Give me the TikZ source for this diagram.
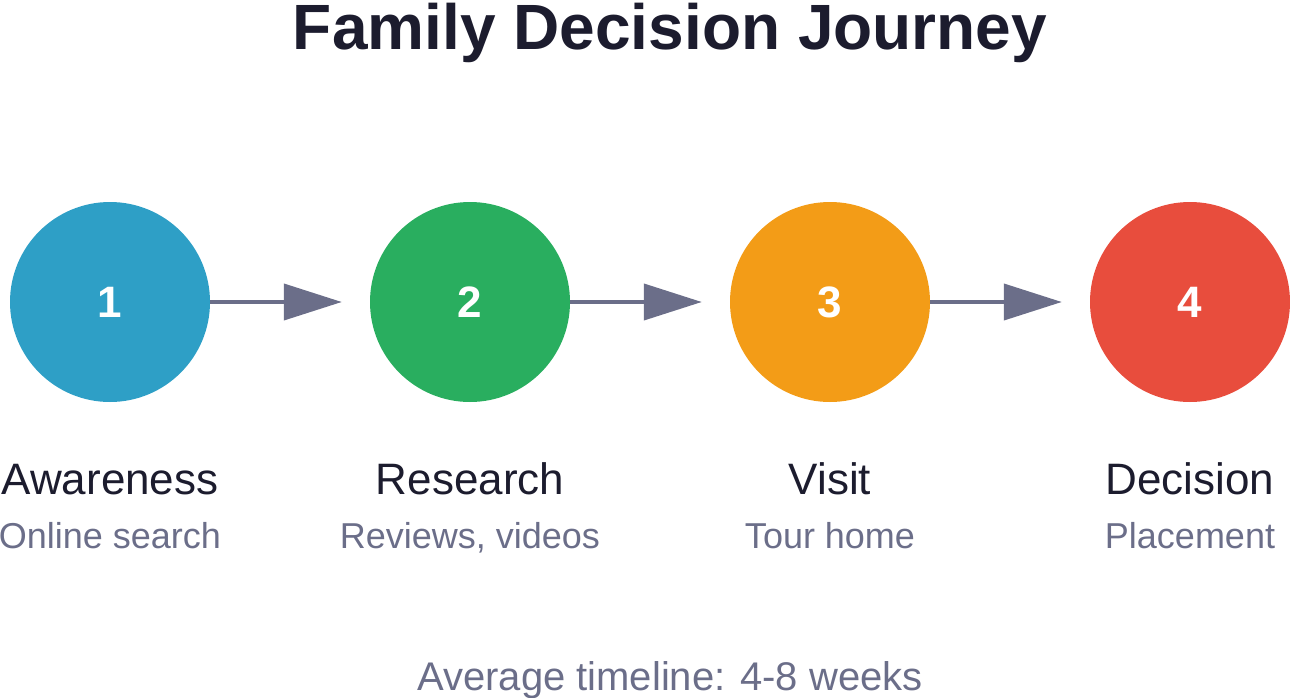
\documentclass[tikz,border=0pt]{standalone}
\usepackage{fontspec}
\setmainfont{Liberation Sans}
\usetikzlibrary{arrows.meta}
\definecolor{stepA}{HTML}{2E9FC6}
\definecolor{stepB}{HTML}{29AE5F}
\definecolor{stepC}{HTML}{F39C17}
\definecolor{stepD}{HTML}{E84D3D}
\definecolor{inkdark}{HTML}{1C1C2E}
\definecolor{inkgray}{HTML}{6B6E89}
\tikzset{
  stage/.style={circle,minimum size=200pt,inner sep=0pt,text=white,font=\fontsize{44}{46}\selectfont\bfseries},
  stagename/.style={anchor=base,text=inkdark,font=\fontsize{44}{48}\selectfont},
  stagenote/.style={anchor=base,text=inkgray,font=\fontsize{36}{40}\selectfont},
  flow/.style={draw=inkgray,line width=4pt,-{Triangle[length=58pt,width=36pt]}}
}
\begin{document}
\begin{tikzpicture}[x=1pt,y=-1pt]
    \useasboundingbox (0,0) rectangle (1290,698);
    % Title
    \node (title) at (670,50) [anchor=base,text=inkdark,font=\fontsize{64}{68}\selectfont\bfseries] {Family Decision Journey};
    % Stages
    \node (s1) at (110,302) [stage,fill=stepA] {1};
    \node (s2) at (470,302) [stage,fill=stepB] {2};
    \node (s3) at (830,302) [stage,fill=stepC] {3};
    \node (s4) at (1190,302) [stage,fill=stepD] {4};
    % Arrows
    \draw [flow] (s1.east) -- ([xshift=-28pt]s2.west);
    \draw [flow] (s2.east) -- ([xshift=-28pt]s3.west);
    \draw [flow] (s3.east) -- ([xshift=-28pt]s4.west);
    % Labels
    \node (n1) at (110,494) [stagename] {Awareness};
    \node (n2) at (470,494) [stagename] {Research};
    \node (n3) at (830,494) [stagename] {Visit};
    \node (n4) at (1190,494) [stagename] {Decision};
    \node (d1) at (110,548) [stagenote] {Online search};
    \node (d2) at (470,548) [stagenote] {Reviews, videos};
    \node (d3) at (830,548) [stagenote] {Tour home};
    \node (d4) at (1190,548) [stagenote] {Placement};
    % Footer
    \node (foot) at (670,690) [anchor=base,text=inkgray,font=\fontsize{40}{44}\selectfont] {Average timeline: 4-8 weeks};
\end{tikzpicture}
\end{document}
